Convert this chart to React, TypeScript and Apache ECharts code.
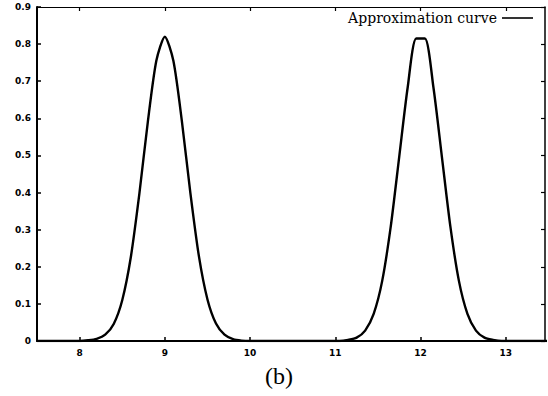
import { useEffect, useRef } from "react";
import * as echarts from "echarts";

const xTicks = [8, 9, 10, 11, 12, 13];
const legendName = "Approximation curve";
const caption = "(b)";

// First peak (around x = 9)
const peak1X = [8.0, 8.1, 8.2, 8.3, 8.4, 8.5, 8.6, 8.7, 8.8, 8.9, 9.0, 9.1, 9.2, 9.3, 9.4, 9.5, 9.6, 9.7, 9.8, 9.9, 10.0];
const peak1Y = [0.0, 0.002, 0.006, 0.017, 0.046, 0.11, 0.225, 0.395, 0.59, 0.755, 0.82, 0.755, 0.592, 0.398, 0.228, 0.112, 0.047, 0.017, 0.005, 0.001, 0.0];

// Second peak (around x = 12), flat top
const peak2X = [11.05, 11.15, 11.25, 11.35, 11.45, 11.55, 11.65, 11.75, 11.85, 11.95, 12.05, 12.15, 12.25, 12.35, 12.45, 12.55, 12.65, 12.75, 12.85, 12.95];
const peak2Y = [0.0, 0.003, 0.009, 0.028, 0.073, 0.162, 0.308, 0.497, 0.685, 0.815, 0.815, 0.685, 0.497, 0.308, 0.162, 0.073, 0.028, 0.009, 0.003, 0.0];

// Flat baseline ends
const edgeX = [7.5, 13.5];
const edgeY = [0, 0];

export default function App() {
  const ref = useRef<HTMLDivElement>(null);
  useEffect(() => {
    if (!ref.current) return;
    const chart = echarts.init(ref.current, undefined, { renderer: "svg" });
    const data: number[][] = [[edgeX[0], edgeY[0]]];
    peak1X.forEach((x, i) => data.push([x, peak1Y[i]]));
    peak2X.forEach((x, i) => data.push([x, peak2Y[i]]));
    data.push([edgeX[1], edgeY[1]]);

    const tickFont = { color: "#000", fontFamily: "DejaVu Sans", fontWeight: "bold" as const, fontSize: 9 };
    const xMin = 7.5, xMax = 13.46;

    chart.setOption({
      animation: false,
      backgroundColor: "#fff",
      grid: { left: 37, right: 3, top: 7, bottom: 55, containLabel: false },
      legend: {
        show: true,
        right: 15,
        top: 11,
        padding: 0,
        align: "right",
        itemWidth: 31,
        itemHeight: 1.6,
        icon: "rect",
        textStyle: { fontFamily: "DejaVu Serif", fontSize: 14, color: "#000", padding: [0, 0, 0, 0] },
        data: [{ name: legendName, itemStyle: { color: "#000" } }],
      },
      xAxis: [
        {
          type: "value", min: xMin, max: xMax, position: "bottom",
          axisLine: { show: true, onZero: false, lineStyle: { color: "#000", width: 2 } },
          axisTick: { show: true, inside: true, length: 4, customValues: xTicks, lineStyle: { color: "#000", width: 1.5 } },
          axisLabel: { show: true, customValues: xTicks, margin: 7, ...tickFont },
          splitLine: { show: false },
        },
        {
          type: "value", min: xMin, max: xMax, position: "top",
          axisLine: { show: true, onZero: false, lineStyle: { color: "#000", width: 1.2 } },
          axisTick: { show: true, inside: true, length: 4, customValues: xTicks, lineStyle: { color: "#000", width: 1.2 } },
          axisLabel: { show: false },
          splitLine: { show: false },
        },
      ],
      yAxis: [
        {
          type: "value", min: 0, max: 0.9, interval: 0.1, position: "left",
          axisLine: { show: true, onZero: false, lineStyle: { color: "#000", width: 2 } },
          axisTick: { show: true, inside: true, length: 4, lineStyle: { color: "#000", width: 1.5 } },
          axisLabel: { show: true, margin: 6, formatter: (v: number) => (v === 0 ? "0" : v.toFixed(1)), ...tickFont },
          splitLine: { show: false },
        },
        {
          type: "value", min: 0, max: 0.9, interval: 0.1, position: "right",
          axisLine: { show: true, onZero: false, lineStyle: { color: "#000", width: 1.5 } },
          axisTick: { show: true, inside: true, length: 4, lineStyle: { color: "#000", width: 1.2 } },
          axisLabel: { show: false },
          splitLine: { show: false },
        },
      ],
      series: [
        {
          name: legendName,
          type: "line",
          xAxisIndex: 0,
          yAxisIndex: 0,
          data,
          showSymbol: false,
          symbol: "none",
          smooth: 0.25,
          clip: true,
          itemStyle: { color: "#000" },
          lineStyle: { color: "#000", width: 2.4 },
        },
      ],
      graphic: [
        {
          type: "text",
          x: 279,
          y: 376,
          style: {
            text: caption,
            font: '24px "Liberation Serif"',
            textAlign: "center",
            textVerticalAlign: "middle",
            fill: "#000",
          },
        },
      ],
    });
    return () => chart.dispose();
  }, []);
  return <div ref={ref} style={{ position: "fixed", left: 0, top: 0, width: 548, height: 396 }} />;
}
